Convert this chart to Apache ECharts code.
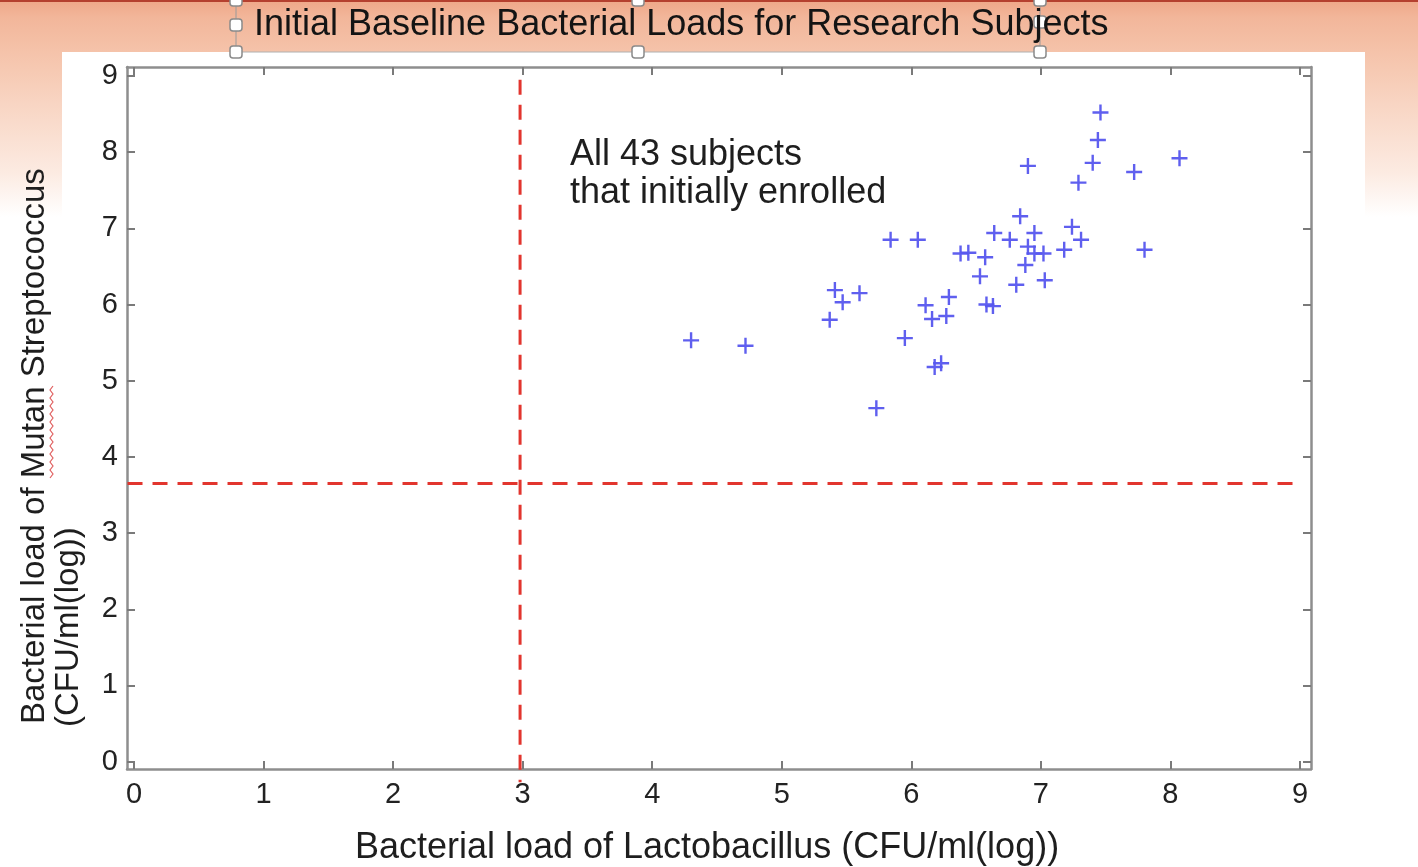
<!DOCTYPE html>
<html>
<head>
<meta charset="utf-8">
<style>
  html, body { margin: 0; padding: 0; background: #ffffff; }
  #chart { width: 1418px; height: 867px; }
</style>
<script src="https://cdn.jsdelivr.net/npm/echarts@6.0.0/dist/echarts.min.js"></script>
</head>
<body>
<div id="chart"></div>
<script>
// ---- Data ----
const chartTitle = 'Initial Baseline Bacterial Loads for Research Subjects';
const xAxisTitle = 'Bacterial load of Lactobacillus (CFU/ml(log))';
const yAxisTitleLine1 = 'Bacterial load of Mutan Streptococcus';
const yAxisTitleLine2 = '(CFU/ml(log))';
const annotationLines = ['All 43 subjects', 'that initially enrolled'];

const xTicks = [0, 1, 2, 3, 4, 5, 6, 7, 8, 9];
const yTicks = [0, 1, 2, 3, 4, 5, 6, 7, 8, 9];

// Lactobacillus load (x) for each subject
const lactobacillus = [
  4.30, 4.72, 5.37, 5.41, 5.47, 5.60, 5.73, 5.84, 5.95, 6.05,
  6.11, 6.16, 6.18, 6.23, 6.27, 6.29, 6.38, 6.44, 6.53, 6.57,
  6.58, 6.63, 6.64, 6.76, 6.81, 6.84, 6.88, 6.90, 6.90, 6.95,
  6.95, 7.02, 7.03, 7.18, 7.24, 7.31, 7.29, 7.40, 7.44, 7.46,
  7.72, 7.80, 8.07
];
// Mutans streptococcus load (y) for each subject
const mutans = [
  5.53, 5.46, 5.80, 6.19, 6.03, 6.15, 4.64, 6.85, 5.56, 6.85,
  5.99, 5.81, 5.18, 5.23, 5.85, 6.10, 6.67, 6.68, 6.37, 6.62,
  6.00, 5.98, 6.94, 6.85, 6.26, 7.16, 6.52, 7.82, 6.76, 6.94,
  6.67, 6.67, 6.32, 6.72, 7.02, 6.85, 7.60, 7.86, 8.16, 8.52,
  7.74, 6.72, 7.92
];

// Threshold (dashed red) lines
const thresholdLacto = 2.98;
const thresholdMutans = 3.65;
const verticalLineSpan = [8.95, -0.27];   // y extent of the vertical dashed line
const horizontalLineSpan = [-0.05, 9.015]; // x extent of the horizontal dashed line

// Axis extents (the frame sits slightly outside 0..9 in the original)
const xRange = [-0.054, 9.085];
const yRange = [-0.096, 9.118];

// ---- Chart ----
const chart = echarts.init(document.getElementById('chart'), null, { renderer: 'canvas' });

const FONT = '"Liberation Sans", Arial, Helvetica, sans-serif';
const frameColor = '#8e8e8e';
const tickColor = '#7a7a7a';
const plusPath = 'path://M6.8,0 H9.2 V6.8 H16 V9.2 H9.2 V16 H6.8 V9.2 H0 V6.8 H6.8 Z';

function frameAxis(type, position, range, ticks, showLabels) {
  const isX = type === 'x';
  return {
    type: 'value',
    position: position,
    min: range[0],
    max: range[1],
    axisLine: { show: true, onZero: false, lineStyle: { color: frameColor, width: 2.5 } },
    axisTick: { show: true, inside: true, length: 8, customValues: ticks,
                lineStyle: { color: tickColor, width: 2 } },
    axisLabel: { show: showLabels, customValues: ticks, margin: isX ? 11 : 9,
                 color: '#222', fontSize: 29, fontFamily: FONT },
    splitLine: { show: false },
    minorTick: { show: false }
  };
}

const handles = [
  [236, 25], [236, 52], [638, 52], [1040, 52], [1040, 22], [236, 0], [638, 0], [1040, 0]
].map(function (p) {
  return {
    type: 'rect', z: 50,
    shape: { x: p[0] - 6, y: p[1] - 6, width: 12, height: 12, r: 3 },
    style: { fill: '#ffffff', stroke: '#8a8a8a', lineWidth: 1.5 }
  };
});

// red spell-check squiggle under "Mutan" (decoration of the rotated y title)
const squiggle = [];
for (let k = 0; k <= 23; k++) {
  squiggle.push([k % 2 === 0 ? 50 : 53, 478 - k * 4]);
}

const option = {
  animation: false,
  backgroundColor: '#ffffff',
  grid: { left: 127, right: 107, top: 67, bottom: 98, containLabel: false, outerBoundsMode: 'none' },
  xAxis: [
    frameAxis('x', 'bottom', xRange, xTicks, true),
    frameAxis('x', 'top', xRange, xTicks, false)
  ],
  yAxis: [
    frameAxis('y', 'left', yRange, yTicks, true),
    frameAxis('y', 'right', yRange, yTicks, false)
  ],
  graphic: [
    // page background gradient
    { type: 'rect', z: -200, silent: true,
      shape: { x: 0, y: 0, width: 1418, height: 867 },
      style: { fill: new echarts.graphic.LinearGradient(0, 0, 0, 1, [
        { offset: 0, color: '#efa788' },
        { offset: 0.02, color: '#f2b69a' },
        { offset: 0.06, color: '#f5c3aa' },
        { offset: 0.12, color: '#f8d5c3' },
        { offset: 0.2, color: '#fcebe2' },
        { offset: 0.25, color: '#ffffff' },
        { offset: 1, color: '#ffffff' }
      ]) } },
    // top dark red rule
    { type: 'rect', z: -150, silent: true,
      shape: { x: 0, y: 0, width: 1418, height: 2 },
      style: { fill: '#b5402f' } },
    // white figure panel
    { type: 'rect', z: -100, silent: true,
      shape: { x: 62, y: 52, width: 1303, height: 815 },
      style: { fill: '#ffffff' } },
    // selection box borders around the title
    { type: 'line', z: 40, silent: true,
      shape: { x1: 236, y1: 0, x2: 236, y2: 52 },
      style: { stroke: '#9a9a9a', lineWidth: 1 } },
    { type: 'line', z: 40, silent: true,
      shape: { x1: 1040, y1: 0, x2: 1040, y2: 52 },
      style: { stroke: '#9a9a9a', lineWidth: 1 } },
    { type: 'line', z: 40, silent: true,
      shape: { x1: 236, y1: 52, x2: 1040, y2: 52 },
      style: { stroke: '#b0b0b0', lineWidth: 1 } },
    // title
    { type: 'text', z: 60, silent: true, x: 254, y: 25,
      style: { text: chartTitle, fill: '#141414', font: '36px ' + FONT,
               align: 'left', verticalAlign: 'middle' } },
    // annotation
    { type: 'text', z: 60, silent: true, x: 570, y: 155,
      style: { text: annotationLines[0], fill: '#1e1e1e', font: '36px ' + FONT,
               align: 'left', verticalAlign: 'middle' } },
    { type: 'text', z: 60, silent: true, x: 570, y: 193,
      style: { text: annotationLines[1], fill: '#1e1e1e', font: '36px ' + FONT,
               align: 'left', verticalAlign: 'middle' } },
    // x axis title
    { type: 'text', z: 60, silent: true, x: 707, y: 848,
      style: { text: xAxisTitle, fill: '#1e1e1e', font: '36px ' + FONT,
               align: 'center', verticalAlign: 'middle' } },
    // y axis title (two left-aligned rotated lines)
    { type: 'text', z: 60, silent: true, x: 35, y: 724, rotation: Math.PI / 2,
      style: { text: yAxisTitleLine1, fill: '#1e1e1e', font: '33px ' + FONT,
               align: 'left', verticalAlign: 'middle' } },
    { type: 'text', z: 60, silent: true, x: 69, y: 727, rotation: Math.PI / 2,
      style: { text: yAxisTitleLine2, fill: '#1e1e1e', font: '33px ' + FONT,
               align: 'left', verticalAlign: 'middle' } },
    { type: 'polyline', z: 61, silent: true,
      shape: { points: squiggle },
      style: { stroke: '#e06060', lineWidth: 1.2, fill: null } }
  ].concat(handles),
  series: [
    {
      name: 'Threshold Lactobacillus',
      type: 'line',
      xAxisIndex: 0, yAxisIndex: 0,
      clip: false, silent: true, symbol: 'none', z: 3,
      data: [[thresholdLacto, verticalLineSpan[0]], [thresholdLacto, verticalLineSpan[1]]],
      lineStyle: { color: '#e2352e', width: 3, type: [15, 10] }
    },
    {
      name: 'Threshold Mutans',
      type: 'line',
      xAxisIndex: 0, yAxisIndex: 0,
      clip: false, silent: true, symbol: 'none', z: 3,
      data: [[horizontalLineSpan[0], thresholdMutans], [horizontalLineSpan[1], thresholdMutans]],
      lineStyle: { color: '#e2352e', width: 3, type: [15, 10] }
    },
    {
      name: 'Subjects',
      type: 'scatter',
      xAxisIndex: 0, yAxisIndex: 0,
      z: 5,
      symbol: plusPath,
      symbolSize: 16,
      itemStyle: { color: '#5656ee', opacity: 0.95 },
      data: lactobacillus.map(function (x, i) { return [x, mutans[i]]; })
    }
  ]
};

chart.setOption(option);
</script>
</body>
</html>
